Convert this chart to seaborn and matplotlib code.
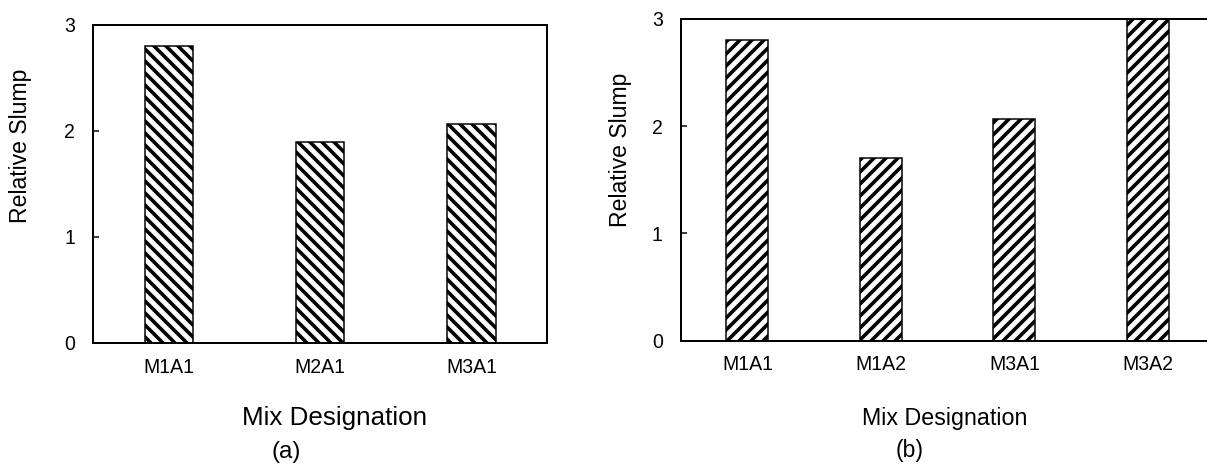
import matplotlib
matplotlib.use("Agg")
import matplotlib.pyplot as plt
import seaborn as sns
import pandas as pd

# Data
mixes_a = ["M1A1", "M2A1", "M3A1"]
slump_a = [2.80, 1.89, 2.06]
mixes_b = ["M1A1", "M1A2", "M3A1", "M3A2"]
slump_b = [2.80, 1.70, 2.07, 3.00]
y_ticks = [0, 1, 2, 3]

sns.set_theme(style="white")
plt.rcParams["font.family"] = ["Liberation Sans", "DejaVu Sans"]
plt.rcParams["hatch.linewidth"] = 3.6
plt.rcParams["hatch.color"] = "black"

DPI = 72
W, H = 1207, 466
fig = plt.figure(figsize=(W / DPI, H / DPI), dpi=DPI)
fig.patch.set_facecolor("white")

def px_axes(left, top, right, bottom):
    return fig.add_axes([left / W, 1 - bottom / H, (right - left) / W, (bottom - top) / H])

ax1 = px_axes(93.3, 24.7, 547.0, 342.7)
ax2 = px_axes(680.7, 19.0, 1214.7, 340.5)

df_a = pd.DataFrame({"mix": mixes_a, "slump": slump_a})
df_b = pd.DataFrame({"mix": mixes_b, "slump": slump_b})

sns.barplot(data=df_a, x="mix", y="slump", ax=ax1, color="white", edgecolor="black",
            linewidth=1.5, width=0.32, hatch="\\\\", saturation=1)
sns.barplot(data=df_b, x="mix", y="slump", ax=ax2, color="white", edgecolor="black",
            linewidth=1.5, width=0.315, hatch="//", saturation=1)

for ax, n in ((ax1, len(mixes_a)), (ax2, len(mixes_b))):
    ax.set_xlim(-0.5, n - 0.5)
    ax.set_ylim(0, 3)
    ax.set_yticks(y_ticks)
    ax.set_yticklabels([str(t) for t in y_ticks])
    ax.set_xlabel("")
    ax.set_ylabel("")
    for s in ax.spines.values():
        s.set_visible(True)
        s.set_color("black")
        s.set_linewidth(2)
    ax.tick_params(axis="y", direction="in", length=6, width=1.5, pad=18,
                   labelsize=19.5, colors="black", left=True)
    ax.tick_params(axis="x", length=0, pad=15, labelsize=19.5, colors="black")
    ax.set_facecolor("white")

# Axis titles placed to match reference
fig.text(21 / W, 1 - 146 / H, "Relative Slump", rotation=90, ha="center", va="center",
         fontsize=23, color="black")
fig.text(621 / W, 1 - 150 / H, "Relative Slump", rotation=90, ha="center", va="center",
         fontsize=23, color="black")
fig.text(334.5 / W, 1 - 425 / H, "Mix Designation", ha="center", va="baseline",
         fontsize=26, color="black")
fig.text(945 / W, 1 - 425 / H, "Mix Designation", ha="center", va="baseline",
         fontsize=23.3, color="black")
fig.text(286.5 / W, 1 - 452 / H, "(a)", ha="center", va="center", fontsize=24, color="black")
fig.text(910 / W, 1 - 450 / H, "(b)", ha="center", va="center", fontsize=23, color="black")

fig.savefig("out.png", dpi=DPI, facecolor="white")
